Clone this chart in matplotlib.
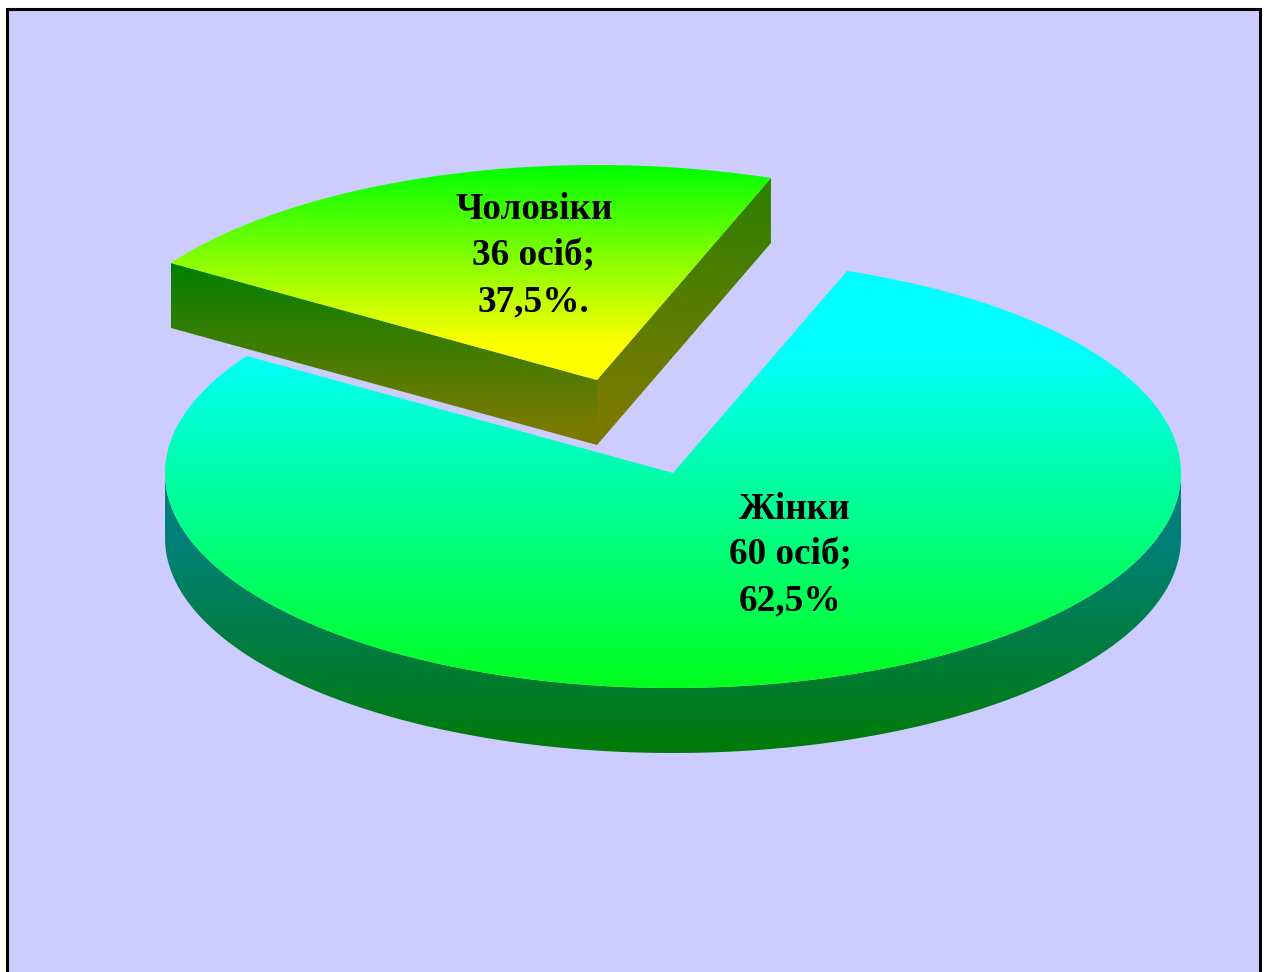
import numpy as np
import matplotlib
matplotlib.use('Agg')
import matplotlib.pyplot as plt
from matplotlib.colors import LinearSegmentedColormap
from matplotlib.patches import Polygon, Rectangle

labels_m = ['Чоловіки', '36 осіб;', '37,5%.']
labels_f = ['Жінки', '60 осіб;', '62,5%']
count_m = 36
count_f = 60

W, H = 1267, 972
BG = '#ccccff'

# pie geometry in pixels
cx, cy = 673, 473
rx, ry = 508, 215
depth = 65
explode = (-76, -93)
# perspective: far side of the disc is squeezed around this direction
view_dir = 108.5
squeeze = 0.523


def screen_angle(deg):
    # projective mapping of an angle on the flat disc to the drawn ellipse
    t = np.radians(np.asarray(deg, dtype=float) - view_dir) / 2
    return view_dir + np.degrees(2 * np.arctan(squeeze * np.tan(t)))


def rim(a0, a1, off=(0, 0), n=400):
    a = np.radians(np.linspace(a0, a1, n))
    return np.column_stack([cx + off[0] + rx * np.cos(a), cy + off[1] - ry * np.sin(a)])


def gradient(ax, verts, y0, y1, c0, c1):
    # vertical colour ramp clipped to a polygon
    cmap = LinearSegmentedColormap.from_list('g', [c0, c1])
    xs = verts[:, 0]
    ys = verts[:, 1]
    top, bottom = ys.min(), ys.max()
    rows = np.linspace(top, bottom, 512)
    vals = np.clip((rows - y0) / (y1 - y0), 0, 1).reshape(-1, 1)
    im = ax.imshow(vals, cmap=cmap, vmin=0, vmax=1, aspect='auto', interpolation='bilinear',
                   extent=(xs.min(), xs.max(), bottom, top), zorder=2)
    clip = Polygon(verts, closed=True, transform=ax.transData, fc='none', ec='none')
    ax.add_patch(clip)
    im.set_clip_path(clip)


fig = plt.figure(figsize=(W / 100, H / 100), dpi=100, facecolor='white')
ax = fig.add_axes([0, 0, 1, 1])
ax.set_xlim(0, W)
ax.set_ylim(H, 0)
ax.axis('off')

ax.add_patch(Rectangle((6.5, 9.5), 1253.5, 1000, fc=BG, ec='black', lw=2.2, zorder=1))

# slice angles come from the counts
total = count_f + count_m
sweep_m = 360 * count_m / total
m_a0 = screen_angle(view_dir - sweep_m / 2)
m_a1 = screen_angle(view_dir + sweep_m / 2)
f_a0 = m_a1
f_a1 = m_a0 + 360

# women: side wall first, then the top
front = rim(180, 360)
wall = np.vstack([front, front[::-1] + [0, depth]])
gradient(ax, wall, 540, 750, '#008078', '#007a08')
top = np.vstack([rim(f_a0, f_a1), [[cx, cy]]])
gradient(ax, top, 345, 695, '#00ffff', '#00ff18')

# men: exploded slice, two cut faces and the top
apex = np.array([cx + explode[0], cy + explode[1]])
left = rim(m_a1, m_a1, explode, 1)[0]
right = rim(m_a0, m_a0, explode, 1)[0]
d = np.array([0, depth])
left_face = np.array([left, apex, apex + d, left + d])
right_face = np.array([right, apex, apex + d, right + d])
gradient(ax, left_face, left[1], 430, '#008000', '#7a7a00')
gradient(ax, right_face, right[1], 410, '#2a8000', '#7a7a00')
top_m = np.vstack([rim(m_a0, m_a1, explode), [apex]])
gradient(ax, top_m, 165, 345, '#00ff00', '#ffff00')

font = dict(family='Liberation Serif', fontweight='bold', fontsize=26.8, color='black',
            ha='center', va='center', zorder=5)
for txt, x, y in zip(labels_m, [534, 533, 533], [209, 256, 302]):
    ax.text(x, y, txt, **font)
for txt, x, y in zip(labels_f, [795, 790, 790], [509, 555, 601]):
    ax.text(x, y, txt, **font)

fig.savefig('out.png', dpi=100, facecolor='white')
